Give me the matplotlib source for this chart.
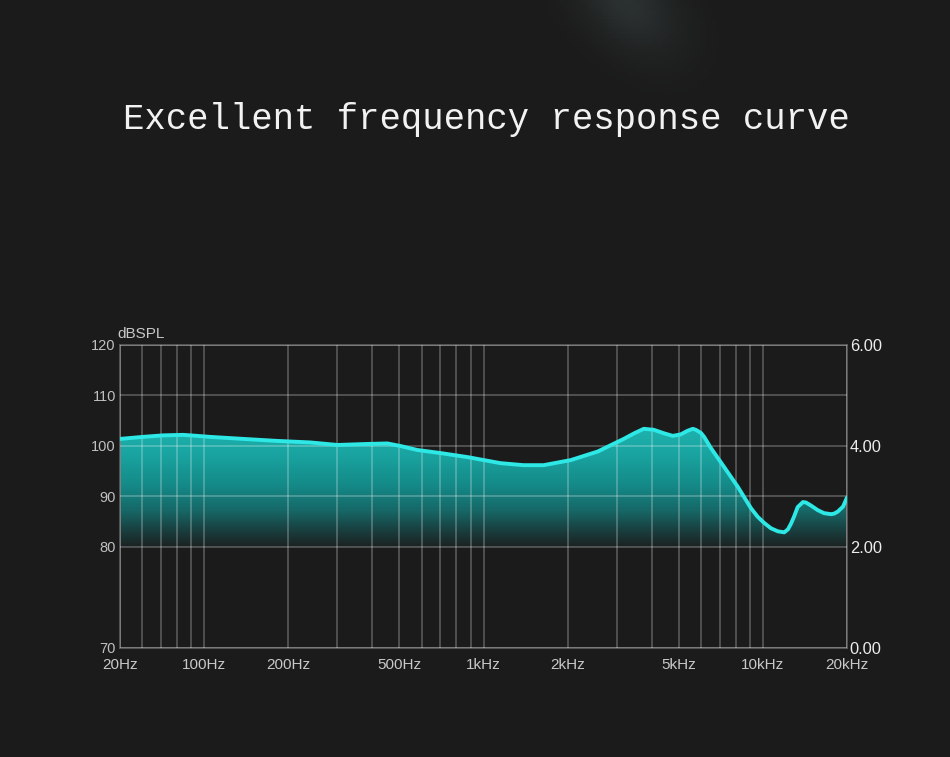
import numpy as np
import matplotlib
matplotlib.use("Agg")
import matplotlib.pyplot as plt
from matplotlib import font_manager as fm
from matplotlib.colors import LinearSegmentedColormap
from matplotlib.ticker import FixedLocator, NullFormatter

# ── data ──────────────────────────────────────────────────────
freq_hz = [50, 60.4, 71.3, 84.1, 94.4, 105, 138, 183, 240, 300, 384, 453,
           504, 580, 701, 876, 1150, 1391, 1641, 2051, 2563, 3176, 3460,
           3747, 4069, 4430, 4759, 5083, 5371, 5611, 5753, 5995, 6162,
           6512, 7251, 8134, 9057, 9572, 10085, 10685, 11316, 11923,
           12293, 12600, 12922, 13316, 13913, 14263, 14864, 15707, 16545,
           17526, 17971, 18528, 19352, 20000]
level_db = [101.4, 101.8, 102.1, 102.2, 102.0, 101.8, 101.4, 101.0, 100.7,
            100.2, 100.4, 100.5, 100.0, 99.2, 98.6, 97.8, 96.6, 96.2, 96.2,
            97.2, 98.9, 101.4, 102.5, 103.4, 103.2, 102.5, 102.0, 102.3,
            103.0, 103.4, 103.2, 102.6, 101.8, 99.6, 95.9, 91.9, 87.7,
            86.0, 84.8, 83.7, 83.1, 82.9, 83.5, 84.6, 86.0, 87.9, 88.9,
            88.8, 88.2, 87.3, 86.7, 86.5, 86.6, 87.0, 88.0, 89.8]

x_tick_freqs = [50, 100, 200, 500, 1000, 2000, 5000, 10000, 20000]
x_tick_labels = ["20Hz", "100Hz", "200Hz", "500Hz", "1kHz", "2kHz",
                 "5kHz", "10kHz", "20kHz"]
x_grid_freqs = ([50, 60, 70, 80, 90, 100] + list(range(200, 1001, 100))
                + list(range(2000, 10001, 1000)) + [20000])
y_ticks_db = [70, 80, 90, 100, 110, 120]
y_ticks_right = [0, 2, 4, 6]

BG = "#1b1b1b"
LINE = "#2ee8e6"

names = {f.name for f in fm.fontManager.ttflist}
if "Liberation Sans Narrow" in names:
    TICK_FONT, TICK_SIZE = "Liberation Sans Narrow", 12.3
else:
    TICK_FONT, TICK_SIZE = "Liberation Sans", 11


# left axis is 70→80 over two units, then 10 dB per unit above 80
def db_to_unit(d):
    d = np.asarray(d, dtype=float)
    return np.where(d < 80, (d - 70) / 5.0, 2 + (d - 80) / 10.0)


def unit_to_db(u):
    u = np.asarray(u, dtype=float)
    return np.where(u < 2, 70 + 5.0 * u, 80 + 10.0 * (u - 2))


fig = plt.figure(figsize=(9.5, 7.57), dpi=100, facecolor=BG)

# faint diagonal light streak at the top of the backdrop
yy, xx = np.mgrid[0:1:200j, 0:1:300j]
d = (xx - 0.66) + 0.35 * (yy - 1.0)
glow = np.exp(-(d / 0.05) ** 2 - ((yy - 1.0) / 0.07) ** 2)
bg_ax = fig.add_axes([0, 0, 1, 1], zorder=-5)
bg_ax.imshow(glow, extent=[0, 1, 0, 1], origin="lower", aspect="auto",
             cmap=LinearSegmentedColormap.from_list("g", [BG, "#2b3030"]))
bg_ax.set_axis_off()

ax = fig.add_axes([0.1263, 0.1440, 0.7653, 0.4003])
ax.set_facecolor(BG)

ax.set_xscale("log")
ax.set_yscale("function", functions=(db_to_unit, unit_to_db))

# ── gradient fill under the curve ─────────────────────────────
poly = ax.fill_between(freq_hz, 80, level_db, facecolor="none",
                       edgecolor="none")
cmap = LinearSegmentedColormap.from_list("fade", [
    (0.0, "#1c2222"), (0.12, "#1a3b3b"), (0.3, "#166867"),
    (0.5, "#148987"), (0.75, "#19a3a0"), (1.0, "#1fb4b0")])
grad = np.linspace(0, 1, 256).reshape(-1, 1)
img = ax.imshow(grad, extent=[0, 1, 2 / 6, 4.4 / 6], origin="lower",
                transform=ax.transAxes, aspect="auto", cmap=cmap, zorder=1)
img.set_clip_path(poly.get_paths()[0], ax.transData)

ax.plot(freq_hz, level_db, color=LINE, lw=2.8, zorder=4,
        solid_capstyle="round", solid_joinstyle="round")

ax.set_xlim(50, 20000)
ax.set_ylim(70, 120)

# ── ticks / grid ─────────────────────────────────────────────
ax.xaxis.set_major_locator(FixedLocator(x_tick_freqs))
ax.xaxis.set_minor_locator(FixedLocator(x_grid_freqs))
ax.xaxis.set_minor_formatter(NullFormatter())
ax.set_xticklabels(x_tick_labels)
ax.set_yticks(y_ticks_db)
ax.set_yticklabels([str(v) for v in y_ticks_db])
ax.yaxis.set_minor_locator(FixedLocator([]))
ax.tick_params(which="both", length=0)
ax.tick_params(axis="x", pad=7, colors="#c8c8c8", labelsize=TICK_SIZE)
ax.tick_params(axis="y", pad=3, colors="#c0c0c0", labelsize=TICK_SIZE - 0.5)
for lab in ax.get_xticklabels() + ax.get_yticklabels():
    lab.set_fontfamily(TICK_FONT)
ax.grid(True, which="both", axis="x", color="white", alpha=0.25, lw=1.3)
ax.grid(True, which="major", axis="y", color="white", alpha=0.25, lw=1.3)
ax.set_axisbelow(False)
for sp in ax.spines.values():
    sp.set_color("#5a5a5a")
    sp.set_linewidth(1.3)

# right axis, linear 0..6
ax2 = ax.twinx()
ax2.set_ylim(0, 6)
ax2.set_yticks(y_ticks_right)
ax2.set_yticklabels([f"{v:.2f}" for v in y_ticks_right])
ax2.tick_params(length=0, pad=2, colors="#ececec", labelsize=11.8)
for lab in ax2.get_yticklabels():
    lab.set_fontfamily("Liberation Sans")
for sp in ax2.spines.values():
    sp.set_visible(False)

ax.text(-0.004, 1.012, "dBSPL", transform=ax.transAxes, ha="left",
        va="bottom", color="#c8c8c8", fontsize=TICK_SIZE,
        fontfamily=TICK_FONT)

fig.text(0.512, 0.8415, "Excellent frequency response curve",
         ha="center", va="center", color="#f2f2f2", fontsize=25.7,
         fontfamily="Liberation Mono")

fig.savefig("out.png", dpi=100, facecolor=BG)
